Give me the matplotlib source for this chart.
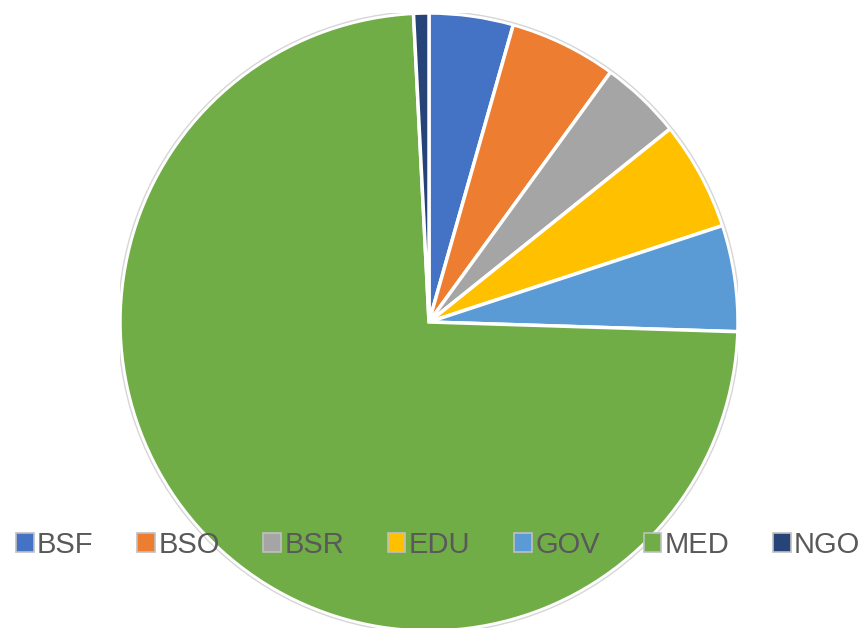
import matplotlib.pyplot as plt
from matplotlib.patches import Rectangle, Circle

# sector shares (percent)
labels = ['BSF', 'BSO', 'BSR', 'EDU', 'GOV', 'MED', 'NGO']
shares = [4.4, 5.6, 4.25, 5.7, 5.55, 73.7, 0.8]
colors = ['#4472C4', '#ED7D31', '#A5A5A5', '#FFC000', '#5B9BD5', '#70AD47', '#264478']

plt.rcParams['font.family'] = ['Liberation Sans', 'DejaVu Sans']

fig = plt.figure(figsize=(8.66, 6.28), dpi=100)
# pie of radius 1 centred at (429, 322) px, radius 309 px
W, H = 866, 628
cx, cy, r = 429, 322, 309
ax = fig.add_axes([(cx - r) / W, (H - cy - r) / H, 2 * r / W, 2 * r / H])

ax.pie(shares, colors=colors, startangle=90, counterclock=False, radius=1,
       wedgeprops=dict(edgecolor='white', linewidth=2.5))
ax.add_patch(Circle((0, 0), 1.006, fill=False, edgecolor='#d6d6d6', linewidth=1.0))
ax.set_xlim(-1, 1)
ax.set_ylim(-1, 1)
ax.set_aspect('auto')
ax.axis('off')

handles = [Rectangle((0, 0), 1, 1, facecolor=c, edgecolor='#c0c0c0', linewidth=1.2) for c in colors]
fig.legend(handles, labels, loc='center', bbox_to_anchor=(0.506, (H - 545) / H), ncol=7,
           frameon=False, fontsize=21, labelcolor='#595959',
           handlelength=0.6, handleheight=0.6, handletextpad=0.12, columnspacing=1.5,
           borderaxespad=0)

fig.savefig('out.png', dpi=100)
